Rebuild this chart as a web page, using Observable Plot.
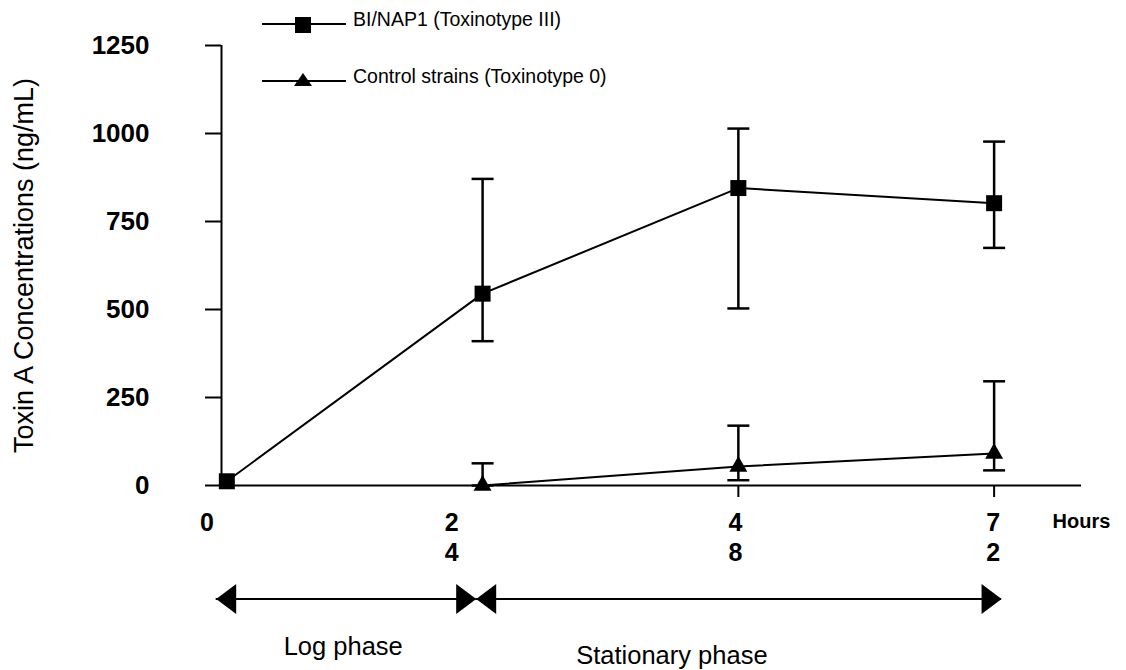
<!DOCTYPE html>
<html><head><meta charset="utf-8">
<script src="https://cdn.jsdelivr.net/npm/d3@7"></script>
<script src="https://cdn.jsdelivr.net/npm/@observablehq/plot@0.6"></script>
<style>
body{margin:0;background:#fff;}
#wrap{position:relative;width:1126px;height:670px;font-family:"Liberation Sans",Arial,sans-serif;}
#legend{position:absolute;left:0;top:0;pointer-events:none;}
</style></head><body><div id="wrap"></div>
<script>
// ---- data ----
const hours = [0, 24, 48, 72];
const biMean = [12, 545, 845, 802];
const biLow = [null, 410, 503, 675];
const biHigh = [null, 871, 1014, 977];
const ctlHours = [24, 48, 72];
const ctlMean = [0, 54, 91];
const ctlLow = [0, 15, 43];
const ctlHigh = [63, 170, 296];
const yTicks = [0, 250, 500, 750, 1000, 1250];
const xTickLabels = ["0", "2\n4", "4\n8", "7\n2"];
const xMarkTicks = [48, 72];
const seriesNames = ["BI/NAP1 (Toxinotype III)", "Control strains (Toxinotype 0)"];
const phaseNames = ["Log phase", "Stationary phase"];
const phaseStart = [-1, 23.4];
const phaseEnd = [23.4, 72.7];
const yTitle = "Toxin A Concentrations (ng/mL)";
const xUnit = "Hours";

// ---- tables ----
const bi = hours.map((h, i) => ({h, v: biMean[i], lo: biLow[i], hi: biHigh[i]}));
const ctl = ctlHours.map((h, i) => ({h, v: ctlMean[i], lo: ctlLow[i], hi: ctlHigh[i]}));
const errs = [...bi, ...ctl].filter(d => d.lo != null);
const phases = phaseNames.map((name, i) => ({name, start: phaseStart[i], end: phaseEnd[i], mid: (phaseStart[i] + phaseEnd[i]) / 2}));

// ---- custom symbols ----
const cap = {draw(c) { c.moveTo(-11, 0); c.lineTo(11, 0); }};
const headLeft = {draw(c) { c.moveTo(0, 0); c.lineTo(20, -15); c.lineTo(20, 15); c.closePath(); }};
const headRight = {draw(c) { c.moveTo(0, 0); c.lineTo(-20, -15); c.lineTo(-20, 15); c.closePath(); }};

const FONT = "'Liberation Sans', Arial, sans-serif";
const arrowDy = 113.5;
const xLabelShift = [-20, -31, -3, -1];
const phaseLabelShift = [-3, -67];
const phaseLabelDy = [161.5, 170];

const marks = [
  Plot.ruleY([0], {stroke: "black", strokeWidth: 2}),
  Plot.ruleX([-0.5], {stroke: "black", strokeWidth: 2}),
  Plot.axisY(yTicks, {tickSize: 16, tickPadding: 56, fontSize: 26, fontWeight: "bold", strokeWidth: 2, label: null, tickFormat: d => String(d)}),
  Plot.axisX(xMarkTicks, {tickSize: 12, tickFormat: () => "", strokeWidth: 2, label: null}),
  // error bars
  Plot.ruleX(errs, {x: "h", y1: "lo", y2: "hi", stroke: "black", strokeWidth: 2.5}),
  Plot.dot(errs, {x: "h", y: "lo", symbol: cap, stroke: "black", fill: "none", strokeWidth: 2.5}),
  Plot.dot(errs, {x: "h", y: "hi", symbol: cap, stroke: "black", fill: "none", strokeWidth: 2.5}),
  // lines
  Plot.line(bi, {x: "h", y: "v", stroke: "black", strokeWidth: 2}),
  Plot.line(ctl, {x: "h", y: "v", stroke: "black", strokeWidth: 2}),
  // markers
  Plot.dot(bi, {x: "h", y: "v", symbol: "square", r: 9.03, fill: "black", stroke: "none"}),
  Plot.dot(ctl, {x: "h", y: "v", symbol: "triangle", r: 6.68, fill: "black", stroke: "none"}),
  // x tick labels
  ...hours.map((h, i) => Plot.text([h], {x: d => d, text: () => xTickLabels[i], frameAnchor: "bottom", lineAnchor: "top", dy: 23.5, dx: xLabelShift[i], fontSize: 25, fontWeight: "bold", lineHeight: 1.22, fill: "black"})),
  Plot.text([xUnit], {frameAnchor: "bottom-right", textAnchor: "start", dx: -29, dy: 42, text: d => d, fontSize: 20, fontWeight: "bold", fill: "black"}),
  // y title
  Plot.text([yTitle], {frameAnchor: "left", textAnchor: "middle", rotate: -90, dx: -197, text: d => d, fontSize: 27, fill: "black"}),
  // phase arrows
  Plot.ruleY(phases, {x1: "start", x2: "end", y: () => 0, dy: arrowDy, stroke: "black", strokeWidth: 2}),
  Plot.dot(phases, {x: "start", y: () => 0, dy: arrowDy, symbol: headLeft, fill: "black", stroke: "none"}),
  Plot.dot(phases, {x: "end", y: () => 0, dy: arrowDy, symbol: headRight, fill: "black", stroke: "none"}),
  ...phases.map((p, i) => Plot.text([p], {x: "mid", y: () => 0, text: "name", dx: phaseLabelShift[i], dy: phaseLabelDy[i], fontSize: 25.5, fill: "black"}))
];

const chart = Plot.plot({
  width: 1126,
  height: 670,
  marginLeft: 221,
  marginRight: 45,
  marginTop: 45,
  marginBottom: 185,
  x: {domain: [-0.5, 80.2]},
  y: {domain: [0, 1250]},
  style: {fontFamily: FONT, background: "white", color: "black", overflow: "visible"},
  marks
});
document.getElementById("wrap").appendChild(chart);

// ---- legend overlay ----
const leg = d3.select("#wrap").append("svg").attr("id", "legend")
  .attr("width", 1126).attr("height", 100)
  .style("font-family", FONT);
const legRows = [{y: 24, name: seriesNames[0], sym: "square"}, {y: 81, name: seriesNames[1], sym: "triangle"}];
legRows.forEach(r => {
  leg.append("line").attr("x1", 262).attr("x2", 346).attr("y1", r.y).attr("y2", r.y).attr("stroke", "black").attr("stroke-width", 2);
  if (r.sym === "square") {
    leg.append("rect").attr("x", 295).attr("y", r.y - 7).attr("width", 16).attr("height", 16).attr("fill", "black");
  } else {
    leg.append("path").attr("d", `M303,${r.y - 8}L294,${r.y + 5}L312,${r.y + 5}Z`).attr("fill", "black");
  }
  leg.append("text").attr("x", 353).attr("y", r.y + 2).attr("font-size", 19.5).attr("fill", "black").text(r.name);
});
</script>
</body></html>
